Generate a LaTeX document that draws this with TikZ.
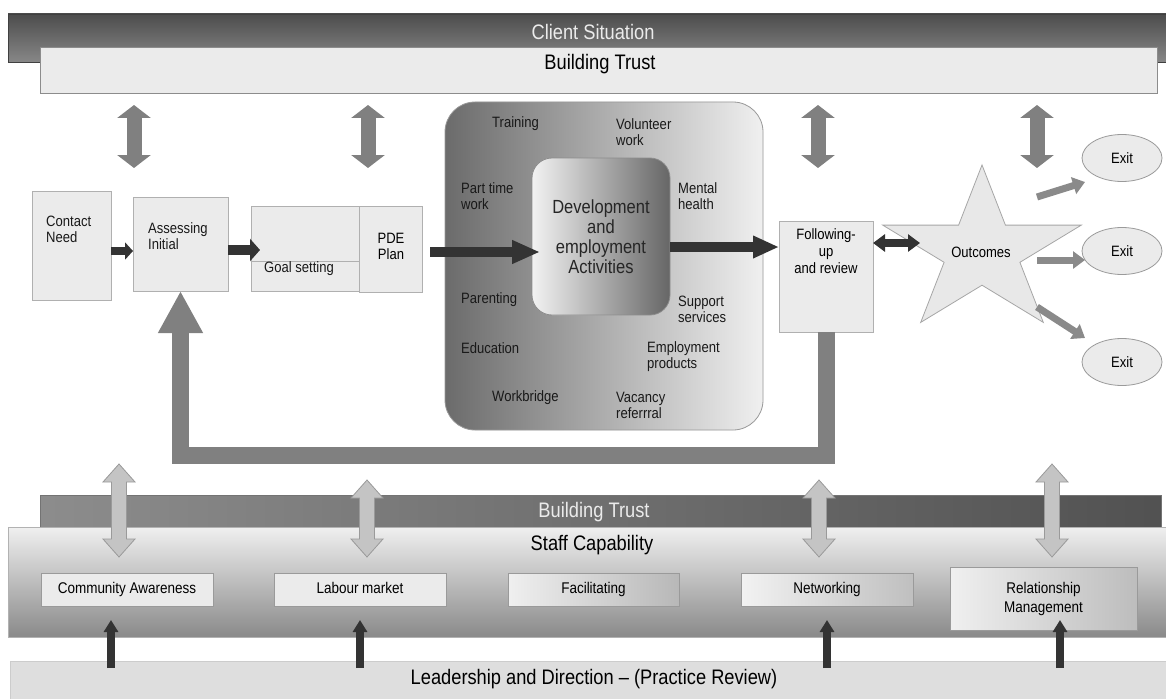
\documentclass[tikz,border=0pt]{standalone}
\usepackage{fontspec}
\setmainfont{Liberation Sans}[FakeStretch=0.87]
\usetikzlibrary{arrows.meta,shapes.geometric,calc}
\definecolor{boxfill}{HTML}{EBEBEB}
\definecolor{boxline}{HTML}{B0B0B0}
\definecolor{darkc}{HTML}{333333}
\definecolor{midg}{HTML}{808080}
\definecolor{exitg}{HTML}{8A8A8A}
\definecolor{lightarr}{HTML}{C4C4C4}
\definecolor{lightarrline}{HTML}{9A9A9A}
\newcommand\fsbig{\fontsize{21}{24}\selectfont}
\newcommand\fsdev{\fontsize{19}{20}\selectfont}
\newcommand\fssm{\fontsize{15}{16}\selectfont}
\newcommand\fsbx{\fontsize{15.5}{19}\selectfont}
\newcommand\lgdbl[2]{%
  \draw[draw=lightarrline, fill=lightarr, line width=0.8pt, line join=miter]
  ($(#1)+(-7.5,18)$) -- ($(#1)+(-16,18)$) -- (#1) -- ($(#1)+(16,18)$) -- ($(#1)+(7.5,18)$)
  -- ($(#2)+(7.5,-18)$) -- ($(#2)+(16,-18)$) -- (#2) -- ($(#2)+(-16,-18)$) -- ($(#2)+(-7.5,-18)$) -- cycle;}
\begin{document}
\begin{tikzpicture}[x=1pt,y=-1pt,
  box/.style={draw=boxline, fill=boxfill, line width=0.8pt, inner sep=0pt, outer sep=0pt, anchor=north west},
  lbl/.style={inner sep=0pt, font=\fssm, align=left, anchor=west, text=black!90},
  sbox/.style={draw=lightarrline, line width=0.8pt, inner sep=0pt, outer sep=0pt, anchor=north west, font=\fsbx, align=center},
  onel/.style={text height=11pt, text depth=3.5pt},
  darkarr/.style={draw=darkc, line width=#1},
  grayarr/.style={draw=midg, line width=15pt, {Triangle[length=13pt,width=33pt]}-{Triangle[length=13pt,width=33pt]}},
  exitarr/.style={draw=exitg, line width=7pt, -{Triangle[length=12pt,width=17pt]}},
  uparr/.style={draw=darkc, line width=8.5pt, -{Triangle[length=12pt,width=14pt]}},
  exitnode/.style={ellipse, draw=lightarrline, fill=boxfill, line width=0.8pt, minimum width=80pt, minimum height=47pt, inner sep=0pt, font=\fssm}
]
\useasboundingbox (0,0) rectangle (1166,698);
\fill[white] (0,0) rectangle (1166,698);

% ---------------- top bands
\node[box, draw=black!75, top color=black!70, bottom color=black!47, minimum width=1158pt, minimum height=48pt] (csit) at (8,14) {};
\node[box, draw=black!45, fill=boxfill, minimum width=1117pt, minimum height=46pt] (btrust1) at (40,47) {};
\node[inner sep=0pt, font=\fsbig, text=white!92!black] (csitT) at (593,32) {Client Situation};
\node[inner sep=0pt, font=\fsbig] (bt1T) at (600,64) {Building Trust};

% ---------------- vertical grey double arrows (top)
\coordinate (ta1) at (134,105); \coordinate (tb1) at (134,168);
\coordinate (ta2) at (368,105); \coordinate (tb2) at (368,168);
\coordinate (ta3) at (818,105); \coordinate (tb3) at (818,168);
\coordinate (ta4) at (1037,105); \coordinate (tb4) at (1037,168);
\draw[grayarr] (ta1) -- (tb1);
\draw[grayarr] (ta2) -- (tb2);
\draw[grayarr] (ta3) -- (tb3);
\draw[grayarr] (ta4) -- (tb4);

% ---------------- left process boxes
\node[box, minimum width=79pt, minimum height=109pt] (contact) at (32,191) {};
\node[box, minimum width=95pt, minimum height=94pt] (assess) at (133,197) {};
\node[box, minimum width=108pt, minimum height=85pt] (goal) at (251,206) {};
\draw[draw=boxline, line width=0.8pt] (goal.west |- 0,261) -- (goal.east |- 0,261);
\node[box, minimum width=63pt, minimum height=86pt] (pde) at (359,206) {};
\node[lbl] (contactT) at (46,229) {Contact\\Need};
\node[lbl] (assessT) at (148,236.5) {Assessing\\Initial};
\node[lbl] (goalT) at (264,269) {Goal setting};
\node[inner sep=0pt, font=\fssm, align=center] (pdeT) at (391,246) {PDE\\Plan};

% ---------------- activities block
\node[box, draw=black!40, rounded corners=30pt, left color=black!58, right color=black!6, minimum width=318pt, minimum height=328pt] (act) at (445,102) {};
\node[box, draw=black!45, rounded corners=20pt, left color=black!5, right color=black!60, minimum width=138pt, minimum height=157pt, font=\fsdev, align=center, text=black!85] (dev) at (532,158) {Development\\and\\employment\\Activities};
\node[lbl] (training) at (492,124) {Training};
\node[lbl] (volunteer) at (616,132) {Volunteer\\work};
\node[lbl] (parttime) at (461,196.5) {Part time\\work};
\node[lbl] (mental) at (678,196.5) {Mental\\health};
\node[lbl] (parenting) at (461,300) {Parenting};
\node[lbl] (support) at (678,309) {Support\\services};
\node[lbl] (education) at (461,348) {Education};
\node[lbl] (employment) at (647,356.5) {Employment\\products};
\node[lbl] (workbridge) at (492,398) {Workbridge};
\node[lbl] (vacancy) at (616,405.5) {Vacancy\\referrral};

% ---------------- following-up
\node[box, minimum width=94pt, minimum height=111pt] (follow) at (779,221) {};
\node[inner sep=0pt, font=\fontsize{15}{17}\selectfont, align=center] (followT) at (826,251) {Following-\\up\\and review};

% ---------------- star
\draw[draw=black!35, fill=black!9, line width=0.8pt, shift={(982,252)}]
  (0,-87) -- (23.4,-26.9) -- (99.3,-26.9) -- (37.9,10.3) -- (61.3,70.4) -- (0,33.2)
  -- (-61.3,70.4) -- (-37.9,10.3) -- (-99.3,-26.9) -- (-23.4,-26.9) -- cycle;
\node[inner sep=0pt, font=\fssm] (outcomes) at (981,252) {Outcomes};

% ---------------- exits
\node[exitnode] (exit1) at (1122,158) {Exit};
\node[exitnode] (exit2) at (1122,251) {Exit};
\node[exitnode] (exit3) at (1122,362) {Exit};
\coordinate (x1s) at (1037,197); \coordinate (x1e) at (1085,182);
\coordinate (x2s) at (1037,260); \coordinate (x2e) at (1085,260);
\coordinate (x3s) at (1037,307); \coordinate (x3e) at (1085,338);
\draw[exitarr] (x1s) -- (x1e);
\draw[exitarr] (x2s) -- (x2e);
\draw[exitarr] (x3s) -- (x3e);

% ---------------- dark flow arrows
\coordinate (r1) at (0,251);
\coordinate (r2) at (0,250);
\coordinate (r3) at (0,252);
\coordinate (r4) at (0,247);
\coordinate (r5) at (920,243);
\draw[darkarr=8pt, -{Triangle[length=8pt,width=17pt]}] (contact.east |- r1) -- (assess.west |- r1);
\draw[darkarr=10pt, -{Triangle[length=10pt,width=22pt]}] (assess.east |- r2) -- ($(goal.west |- r2)+(9,0)$);
\draw[darkarr=10pt, -{Triangle[length=28pt,width=22pt]}] ($(pde.east |- r3)+(8,0)$) -- ($(dev.west |- r3)+(8,0)$);
\draw[darkarr=10pt, -{Triangle[length=26pt,width=21pt]}] (dev.east |- r4) -- (follow.west |- r4);
\draw[darkarr=8pt, {Triangle[length=12pt,width=17pt]}-{Triangle[length=12pt,width=17pt]}] (follow.east |- r5) -- (r5);

% ---------------- feedback arrow
\draw[draw=midg, line width=17pt, line join=miter, -{Triangle[length=42pt,width=42pt]}]
  (follow.south) -- ++(0,123) -| (assess.south);

% ---------------- bottom bands
\node[box, draw=black!55, left color=black!45, right color=black!68, minimum width=1121pt, minimum height=32pt] (btrust2) at (40,495) {};
\node[box, draw=black!30, top color=black!6, bottom color=black!46, minimum width=1158pt, minimum height=110pt] (staff) at (8,527) {};
\node[inner sep=0pt, font=\fsbig, text=white!92!black] (bt2T) at (594,512) {Building Trust};
\node[inner sep=0pt, font=\fsbig] (staffT) at (592,545) {Staff Capability};

\node[sbox, onel, fill=boxfill, minimum width=172pt, minimum height=33pt] (comm) at (41,573) {Community Awareness};
\node[sbox, onel, fill=boxfill, minimum width=172pt, minimum height=33pt] (lab) at (274,573) {Labour market};
\node[sbox, onel, left color=black!6, right color=black!28, minimum width=171pt, minimum height=33pt] (fac) at (508,573) {Facilitating};
\node[sbox, onel, left color=black!5, right color=black!25, minimum width=172pt, minimum height=33pt] (net) at (741,573) {Networking};
\node[sbox, left color=black!6, right color=black!26, minimum width=187pt, minimum height=63pt] (rel) at (950,567) {Relationship\\Management};

\node[box, draw=black!20, fill=black!13, minimum width=1156pt, minimum height=40pt] (lead) at (10,661) {};
\node[inner sep=0pt, font=\fsbig] (leadT) at (594,679) {Leadership and Direction -- (Practice Review)};

% light double arrows (bottom)
\coordinate (ba1) at (119,464); \coordinate (bb1) at (119,557);
\coordinate (ba2) at (367,480); \coordinate (bb2) at (367,557);
\coordinate (ba3) at (819,480); \coordinate (bb3) at (819,557);
\coordinate (ba4) at (1052,464); \coordinate (bb4) at (1052,557);
\lgdbl{ba1}{bb1}
\lgdbl{ba2}{bb2}
\lgdbl{ba3}{bb3}
\lgdbl{ba4}{bb4}

% up arrows
\coordinate (u1s) at (111,668); \coordinate (u1e) at (111,620);
\coordinate (u2s) at (360,668); \coordinate (u2e) at (360,620);
\coordinate (u3s) at (827,668); \coordinate (u3e) at (827,620);
\coordinate (u4s) at (1060,668); \coordinate (u4e) at (1060,620);
\draw[uparr] (u1s) -- (u1e);
\draw[uparr] (u2s) -- (u2e);
\draw[uparr] (u3s) -- (u3e);
\draw[uparr] (u4s) -- (u4e);
\end{tikzpicture}
\end{document}
